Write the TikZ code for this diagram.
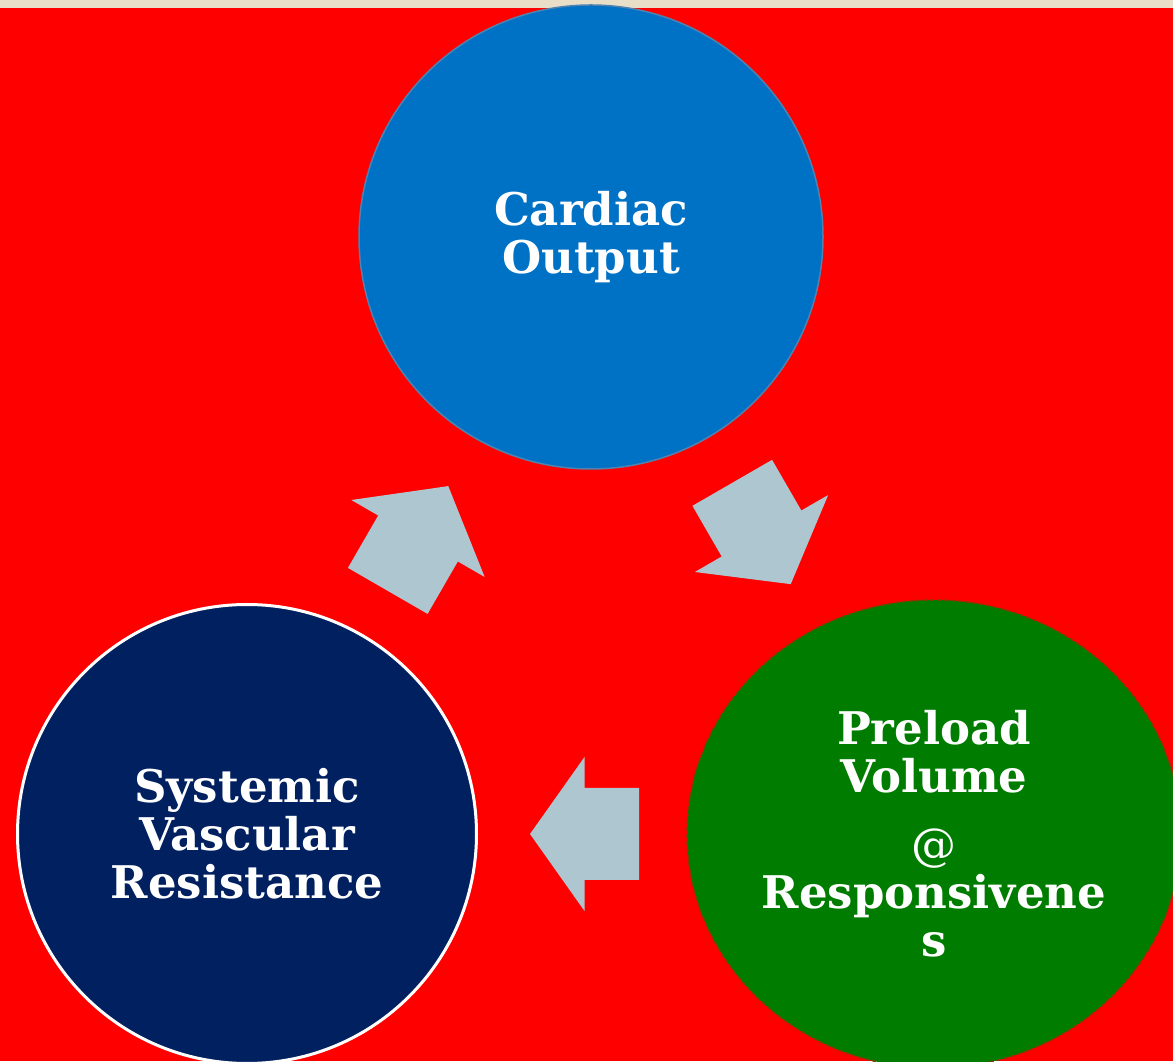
\documentclass[tikz,border=0pt]{standalone}
\usepackage{fontspec}
\setmainfont{DejaVu Serif}
\usetikzlibrary{shapes.geometric,calc}
\definecolor{bgred}{RGB}{255,0,0}
\definecolor{topstrip}{RGB}{233,223,201}
\definecolor{cardiacblue}{RGB}{0,114,198}
\definecolor{cardiacrim}{RGB}{80,130,175}
\definecolor{svrnavy}{RGB}{0,32,96}
\definecolor{preloadgreen}{RGB}{0,125,0}
\definecolor{preloadrim}{RGB}{125,62,0}
\definecolor{arrowgrey}{RGB}{174,198,207}
\tikzstyle{bubble} = [circle, text=white, align=center, inner sep=0pt, font=\fontsize{45}{48}\selectfont\bfseries]
\tikzstyle{flowfill} = [fill=arrowgrey]
\tikzset{pics/blockarrow/.style={code={
    \fill[flowfill] (-#1/2,-46) -- (0,-46) -- (0,-77) -- (#1/2,0) -- (0,77) -- (0,46) -- (-#1/2,46) -- cycle;
}}}

\begin{document}
\begin{tikzpicture}[x=1pt, y=1pt]

    % Page and background
    \useasboundingbox (0,0) rectangle (1173,1061);
    \clip (0,0) rectangle (1173,1061);
    \fill[bgred] (0,0) rectangle (1173,1061);
    \fill[topstrip] (0,1053) rectangle (1173,1061);

    % Place nodes
    \node [bubble, fill=cardiacblue, draw=cardiacrim, line width=1.5pt, minimum size=464pt] (cardiac) at (591,824) {Cardiac\\Output};
    \node [bubble, fill=svrnavy, draw=white, line width=3pt, minimum size=459pt] (svr) at (247,227) {Systemic\\Vascular\\Resistance};
    \node [bubble, ellipse, fill=preloadgreen, draw=preloadrim, line width=1.5pt, dash pattern=on 4pt off 3pt, minimum width=494pt, minimum height=468pt] (preload) at (934,227) {Preload\\Volume\\[20pt]{\mdseries @}\\Responsivene\\s};

    % Draw the cycle arrows
    \pic [rotate=60] at ($(svr)!0.5!(cardiac)+(-1,-3)$) {blockarrow=121};
    \pic [rotate=-60] at ($(cardiac)!0.5!(preload)+(-1,2)$) {blockarrow=117};
    \pic [rotate=180] at ($(preload)!0.5!(svr)+(-6,0)$) {blockarrow=109};

\end{tikzpicture}
\end{document}
